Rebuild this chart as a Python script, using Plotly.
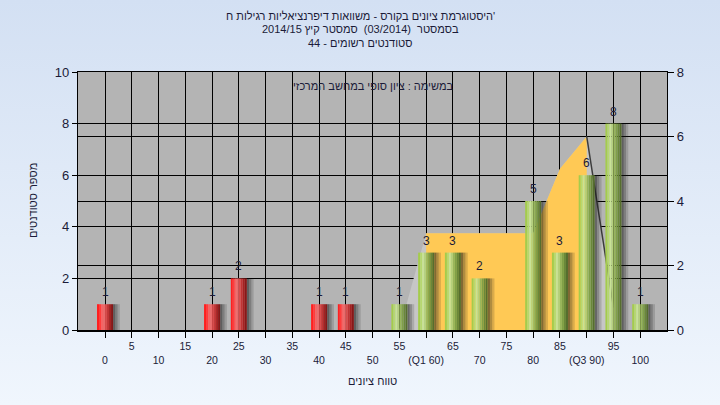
import base64
import plotly.graph_objects as go

# ---------------- data ----------------
categories = list(range(0, 105, 5))
counts = [1, 0, 0, 0, 1, 2, 0, 0, 1, 1, 0, 1, 3, 3, 2, 0, 5, 3, 6, 8, 1]
tick_labels = ["0", "5", "10", "15", "20", "25", "30", "35", "40", "45", "50",
               "55", "(Q1 60)", "65", "70", "75", "80", "85", "(Q3 90)", "95", "100"]
pass_mark = 55
q1_value = 60
q3_value = 90
curve_x = [55, 60, 65, 70, 75, 80, 85, 90, 95]
curve_y = [0, 3, 3, 3, 3, 3, 5, 6, 0.7]

title_lines = [
    "היסטוגרמת ציונים בקורס - משוואות דיפרנציאליות רגילות ח'",
    "בסמסטר  (03/2014)  סמסטר קיץ 2014/15",
    "סטודנטים רשומים - 44",
]
subtitle = "במשימה : ציון סופי במחשב המרכזי"
x_title = "טווח ציונים"
y_title = "מספר סטודנטים"

# ---------------- styling ----------------
W, H = 720, 405
L, R, T, B = 78, 53, 72, 75
PW, PH = W - L - R, H - T - B
FONT = "Arial, Liberation Sans, DejaVu Sans, sans-serif"
TXT = "#1b1b38"

def px_x(px):
    return (px - L) / PW

def px_y(py):
    return 1 - (py - T) / PH

red_cols = ["#ff2020", "#ff3c3c", "#f46464", "#ea6a6a", "#d84c4c", "#c03434", "#a42222", "#861818"]
green_cols = ["#a4cc4c", "#b6d870", "#c8e296", "#b4d07c", "#98b65c", "#80a048", "#6a883a", "#566e2e"]

bar_x = [c for c, v in zip(categories, counts) if v > 0]
bar_y = [v for v in counts if v > 0]
is_pass = [c >= pass_mark for c in bar_x]

fig = go.Figure()

# distribution area (right axis, primary 'y')
fig.add_trace(go.Scatter(x=curve_x, y=curve_y, mode="lines", fill="tozeroy",
                         line=dict(width=0, color="#c6c6c6"), fillcolor="#c6c6c6",
                         yaxis="y", hoverinfo="skip", showlegend=False))
qx = [x for x in curve_x if q1_value <= x <= q3_value]
qy = [y for x, y in zip(curve_x, curve_y) if q1_value <= x <= q3_value]
fig.add_trace(go.Scatter(x=qx, y=qy, mode="lines", fill="tozeroy",
                         line=dict(width=0, color="#ffc955"), fillcolor="#ffc955",
                         yaxis="y", hoverinfo="skip", showlegend=False))
tx = [x for x in curve_x if x >= q3_value]
ty = [y for x, y in zip(curve_x, curve_y) if x >= q3_value]
fig.add_trace(go.Scatter(x=tx, y=ty, mode="lines",
                         line=dict(width=1.5, color="#3c3c3c"),
                         yaxis="y", hoverinfo="skip", showlegend=False))

# bar shadows
BW = 3.0
for k, a in enumerate([0.55, 0.35, 0.16]):
    fig.add_trace(go.Bar(x=bar_x, y=bar_y, width=0.42, offset=BW / 2 + 0.42 * k,
                         marker=dict(color=f"rgba(25,25,25,{a})", line=dict(width=0)),
                         yaxis="y2", hoverinfo="skip", showlegend=False))
# bars (cylinder look via slices)
n = len(red_cols)
for i in range(n):
    cols = [green_cols[i] if p else red_cols[i] for p in is_pass]
    fig.add_trace(go.Bar(x=bar_x, y=bar_y, width=BW / n, offset=-BW / 2 + i * BW / n,
                         marker=dict(color=cols, line=dict(width=0)),
                         yaxis="y2", hoverinfo="skip", showlegend=False))

annotations = []
for x, v in zip(bar_x, bar_y):
    annotations.append(dict(x=x, y=v, xref="x", yref="y2", text=str(v), showarrow=False,
                            yanchor="bottom", yshift=3, font=dict(family=FONT, size=12, color=TXT)))
for line, py in zip(title_lines, [16, 29.5, 43]):
    annotations.append(dict(x=px_x(360), y=px_y(py), xref="paper", yref="paper", text=line,
                            showarrow=False, xanchor="center", yanchor="middle",
                            font=dict(family=FONT, size=11, color=TXT)))
annotations.append(dict(x=0.5, y=px_y(86), xref="paper", yref="paper", text=subtitle,
                        showarrow=False, xanchor="center", yanchor="middle",
                        font=dict(family=FONT, size=11, color=TXT)))
annotations.append(dict(x=0.5, y=px_y(381), xref="paper", yref="paper", text=x_title,
                        showarrow=False, xanchor="center", yanchor="middle",
                        font=dict(family=FONT, size=11, color=TXT)))
annotations.append(dict(x=px_x(33), y=0.5, xref="paper", yref="paper", text=y_title,
                        showarrow=False, xanchor="center", yanchor="middle", textangle=-90,
                        font=dict(family=FONT, size=11, color=TXT)))

ticktext = [("<br>" + t) if i % 2 == 0 else t for i, t in enumerate(tick_labels)]

svg = ('<svg xmlns="http://www.w3.org/2000/svg" width="720" height="405" preserveAspectRatio="none">'
       '<defs><linearGradient id="g" x1="0" y1="0" x2="0" y2="1">'
       '<stop offset="0" stop-color="#d3e0f3"/><stop offset="1" stop-color="#f0f6fd"/>'
       '</linearGradient></defs><rect width="720" height="405" fill="url(#g)"/></svg>')
src = "data:image/svg+xml;base64," + base64.b64encode(svg.encode()).decode()

fig.update_layout(
    width=W, height=H,
    margin=dict(l=L, r=R, t=T, b=B, pad=0),
    paper_bgcolor="#e2ebf8",
    plot_bgcolor="rgba(0,0,0,0)",
    barmode="overlay",
    showlegend=False,
    hovermode=False,
    font=dict(family=FONT, color=TXT),
    images=[dict(source=src, xref="paper", yref="paper", x=px_x(0), y=px_y(0),
                 sizex=W / PW, sizey=H / PH, sizing="stretch", xanchor="left", yanchor="top",
                 layer="below")],
    shapes=[dict(type="rect", xref="paper", yref="paper", x0=0, x1=1, y0=0, y1=1,
                 fillcolor="#b4b4b4", line=dict(width=0), layer="below")],
    xaxis=dict(range=[-5.05, 105], tickmode="array", tickvals=categories, ticktext=ticktext,
               showgrid=True, gridcolor="black", gridwidth=1,
               showline=True, linecolor="black", linewidth=1.5, mirror=True,
               ticks="outside", ticklen=6, tickcolor="black", tickwidth=1,
               tickfont=dict(family=FONT, size=10.5, color=TXT), zeroline=False, fixedrange=True),
    yaxis=dict(range=[0, 8], dtick=2, side="right", showgrid=True, gridcolor="black", gridwidth=1,
               showline=True, linecolor="black", linewidth=1.2, ticks="outside", ticklen=6,
               tickcolor="black", tickfont=dict(family=FONT, size=13, color=TXT), zeroline=False),
    yaxis2=dict(range=[0, 10], dtick=2, side="left", overlaying="y", showgrid=True,
                gridcolor="black", gridwidth=1, showline=True, linecolor="black", linewidth=1.2,
                ticks="outside", ticklen=5, tickcolor="black",
                tickfont=dict(family=FONT, size=13, color=TXT), zeroline=False),
    annotations=annotations,
)

fig.write_html("out.html", config={"displayModeBar": False, "staticPlot": True},
               post_script="document.body.style.margin='0';document.body.style.padding='0';")
